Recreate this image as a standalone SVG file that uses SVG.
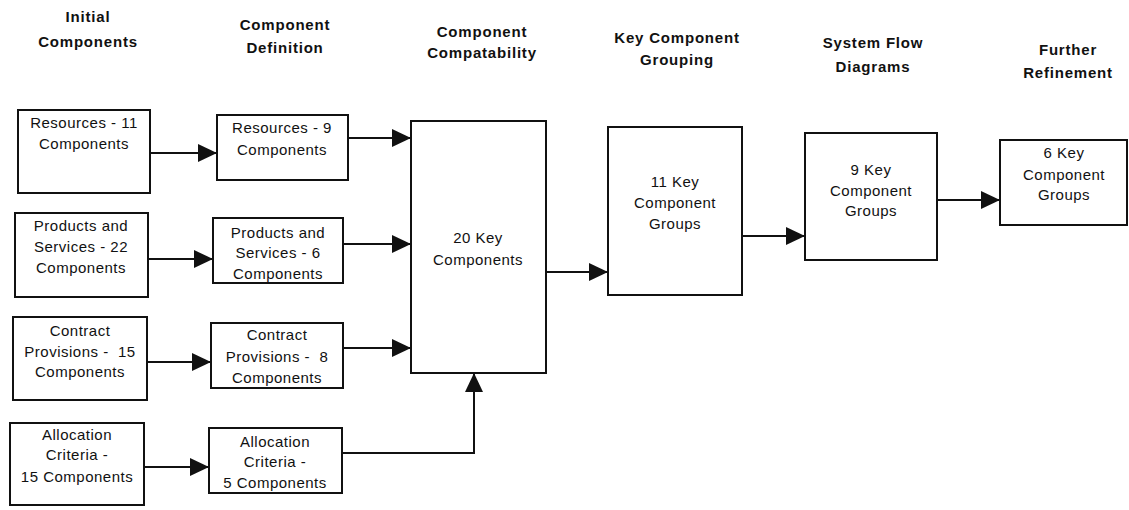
<svg xmlns="http://www.w3.org/2000/svg" width="1129" height="510" viewBox="0 0 1129 510">
<style>
.bg{fill:#fff}
.box{fill:#fff;stroke:#111;stroke-width:2}
.t{font-family:"Liberation Sans",Arial,sans-serif;font-size:15px;letter-spacing:0.5px;fill:#111;text-anchor:middle}
.h{font-family:"Liberation Sans",Arial,sans-serif;font-size:15px;font-weight:bold;letter-spacing:0.8px;fill:#111;text-anchor:middle}
.c{fill:none;stroke:#111;stroke-width:2}
</style>
<defs>
<marker id="ah" markerUnits="userSpaceOnUse" markerWidth="19" markerHeight="18" refX="19" refY="9" orient="auto">
<path d="M0,0 L19,9 L0,18 z" fill="#111"/>
</marker>
</defs>
<rect class="bg" x="0" y="0" width="1129" height="510"/>
<g id="headers">
<text class="h" x="88" y="22">Initial</text>
<text class="h" x="88" y="47">Components</text>
<text class="h" x="285" y="30">Component</text>
<text class="h" x="285" y="53">Definition</text>
<text class="h" x="482" y="37">Component</text>
<text class="h" x="482" y="58">Compatability</text>
<text class="h" x="677" y="43">Key Component</text>
<text class="h" x="677" y="65">Grouping</text>
<text class="h" x="873" y="48">System Flow</text>
<text class="h" x="873" y="72">Diagrams</text>
<text class="h" x="1068" y="55">Further</text>
<text class="h" x="1068" y="78">Refinement</text>
</g>
<g id="connectors">
<path class="c" d="M150,153 H217" marker-end="url(#ah)"/>
<path class="c" d="M148,259 H213" marker-end="url(#ah)"/>
<path class="c" d="M147,362 H211" marker-end="url(#ah)"/>
<path class="c" d="M144,467 H209" marker-end="url(#ah)"/>
<path class="c" d="M348,138 H411" marker-end="url(#ah)"/>
<path class="c" d="M343,244 H411" marker-end="url(#ah)"/>
<path class="c" d="M343,348 H411" marker-end="url(#ah)"/>
<path class="c" d="M342,453 H474 V373" marker-end="url(#ah)"/>
<path class="c" d="M546,272 H608" marker-end="url(#ah)"/>
<path class="c" d="M742,236 H805" marker-end="url(#ah)"/>
<path class="c" d="M937,200 H1000" marker-end="url(#ah)"/>
</g>
<g id="n1"><rect class="box" x="18" y="110" width="132" height="83"/>
<text class="t" x="84" y="128">Resources - 11</text><text class="t" x="84" y="149">Components</text></g>
<g id="n2"><rect class="box" x="15" y="213" width="133" height="84"/>
<text class="t" x="81" y="231">Products and</text><text class="t" x="81" y="252">Services - 22</text><text class="t" x="81" y="273">Components</text></g>
<g id="n3"><rect class="box" x="13" y="317" width="134" height="83"/>
<text class="t" x="80" y="336">Contract</text><text class="t" x="80" y="357" xml:space="preserve">Provisions -  15</text><text class="t" x="80" y="377">Components</text></g>
<g id="n4"><rect class="box" x="10" y="423" width="134" height="82"/>
<text class="t" x="77" y="440">Allocation</text><text class="t" x="77" y="460">Criteria -</text><text class="t" x="77" y="482">15 Components</text></g>
<g id="m1"><rect class="box" x="217" y="115" width="131" height="65"/>
<text class="t" x="282" y="133">Resources - 9</text><text class="t" x="282" y="155">Components</text></g>
<g id="m2"><rect class="box" x="213" y="218" width="130" height="65"/>
<text class="t" x="278" y="238">Products and</text><text class="t" x="278" y="258">Services - 6</text><text class="t" x="278" y="279">Components</text></g>
<g id="m3"><rect class="box" x="211" y="323" width="132" height="65"/>
<text class="t" x="277" y="340">Contract</text><text class="t" x="277" y="362" xml:space="preserve">Provisions -  8</text><text class="t" x="277" y="383">Components</text></g>
<g id="m4"><rect class="box" x="209" y="428" width="133" height="65"/>
<text class="t" x="275" y="447">Allocation</text><text class="t" x="275" y="467">Criteria -</text><text class="t" x="275" y="488">5 Components</text></g>
<g id="big"><rect class="box" x="411" y="121" width="135" height="252"/>
<text class="t" x="478" y="243">20 Key</text><text class="t" x="478" y="265">Components</text></g>
<g id="k11"><rect class="box" x="608" y="127" width="134" height="168"/>
<text class="t" x="675" y="187">11 Key</text><text class="t" x="675" y="208">Component</text><text class="t" x="675" y="229">Groups</text></g>
<g id="k9"><rect class="box" x="805" y="133" width="132" height="127"/>
<text class="t" x="871" y="175">9 Key</text><text class="t" x="871" y="196">Component</text><text class="t" x="871" y="216">Groups</text></g>
<g id="k6"><rect class="box" x="1000" y="140" width="127" height="85"/>
<text class="t" x="1064" y="158">6 Key</text><text class="t" x="1064" y="180">Component</text><text class="t" x="1064" y="200">Groups</text></g>
</svg>
